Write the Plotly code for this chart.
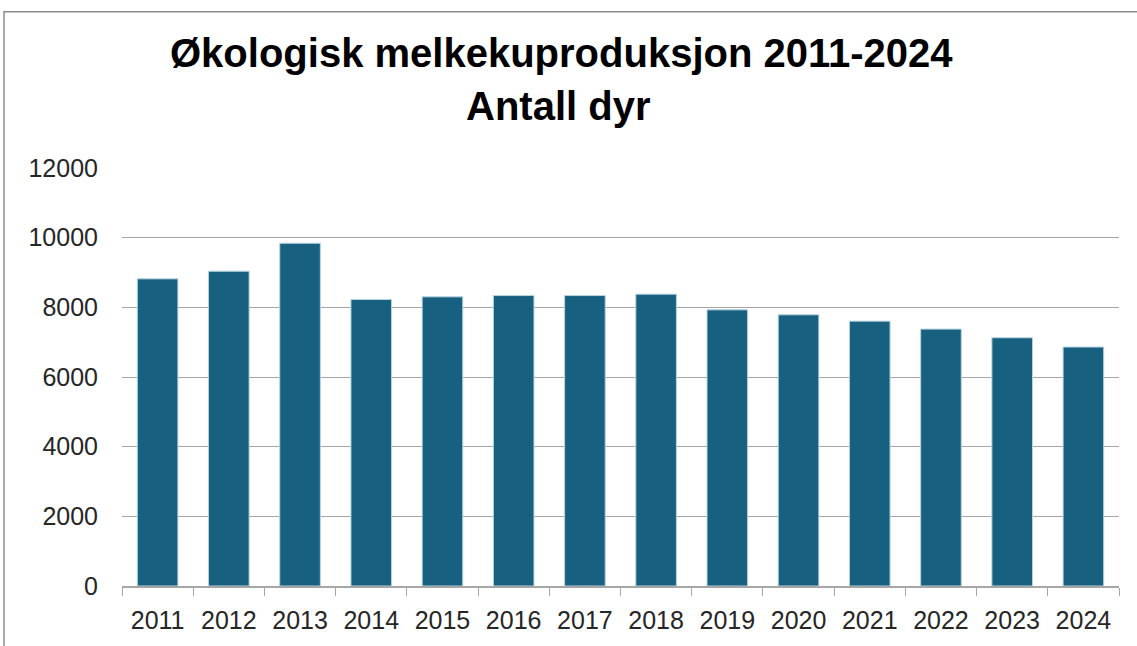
import plotly.graph_objects as go

years = ["2011", "2012", "2013", "2014", "2015", "2016", "2017",
         "2018", "2019", "2020", "2021", "2022", "2023", "2024"]
animals = [8817, 9037, 9840, 8224, 8301, 8338, 8338,
           8378, 7928, 7785, 7604, 7375, 7126, 6860]
y_ticks = [0, 2000, 4000, 6000, 8000, 10000, 12000]
title_line1 = "Økologisk melkekuproduksjon 2011-2024"
title_line2 = "Antall dyr"

W, H = 1137, 646
L, R, T, B = 122, 18, 168, 58
pw, ph = W - L - R, H - T - B

def px_x(p):
    return (p - L) / pw

def px_y(p):
    return (H - B - p) / ph

fig = go.Figure(go.Bar(
    x=years, y=animals,
    marker=dict(color="#17607F", line=dict(color="#B8D3DF", width=1)),
))

fig.update_layout(
    width=W, height=H,
    margin=dict(l=L, r=R, t=T, b=B),
    paper_bgcolor="white", plot_bgcolor="white",
    bargap=0.43, showlegend=False,
    font=dict(family="Liberation Sans, Arial, sans-serif", color="#262626"),
    xaxis=dict(
        type="category", showline=True, linecolor="#A6A6A6", linewidth=1.5,
        ticks="outside", tickson="boundaries", ticklen=8, tickcolor="#A6A6A6",
        tickfont=dict(size=25, color="#262626"), showgrid=False,
        ticklabelstandoff=11,
    ),
    yaxis=dict(
        range=[0, 12000], tickvals=y_ticks, tickformat="d", showgrid=True,
        gridcolor="#A6A6A6", gridwidth=1.3, zeroline=False, showline=False,
        tickfont=dict(size=25, color="#262626"), ticklabelstandoff=23,
    ),
    annotations=[
        dict(text="<b>" + title_line1 + "</b>", xref="paper", yref="paper",
             x=px_x(561), y=px_y(52), showarrow=False, xanchor="center",
             yanchor="middle", font=dict(size=40, color="black")),
        dict(text="<b>" + title_line2 + "</b>", xref="paper", yref="paper",
             x=px_x(558), y=px_y(106), showarrow=False, xanchor="center",
             yanchor="middle", font=dict(size=40, color="black")),
    ],
    shapes=[
        dict(type="rect", xref="paper", yref="paper",
             x0=px_x(4), x1=px_x(1145), y0=px_y(655), y1=px_y(11),
             line=dict(color="#8C8C8C", width=1.5), fillcolor="rgba(0,0,0,0)",
             layer="below"),
    ],
)

fig.write_html("out.html",
               config={"displayModeBar": False},
               post_script="document.body.style.margin='0';"
                           "document.body.style.overflow='hidden';")
